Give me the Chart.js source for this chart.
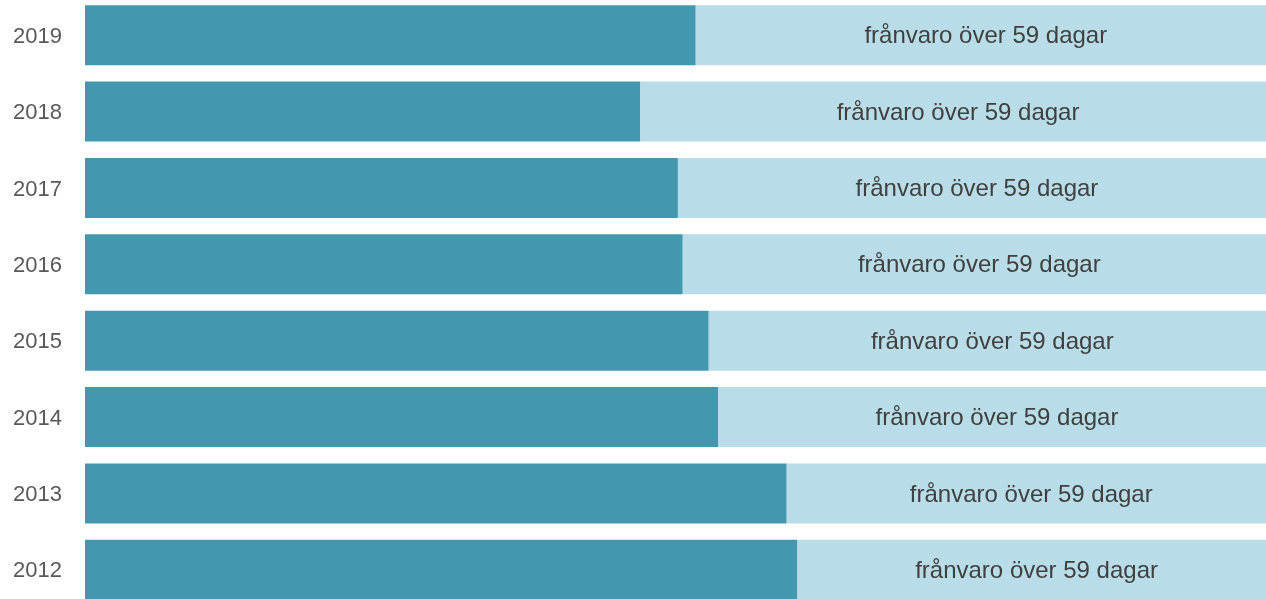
<!DOCTYPE html>
<html>
<head>
<meta charset="utf-8">
<script src="https://cdn.jsdelivr.net/npm/chart.js@4/dist/chart.umd.min.js"></script>
<style>
    html, body { margin: 0; padding: 0; background: #fff; overflow: hidden; }
    #chart { position: absolute; left: 0; top: -3px; }
</style>
</head>
<body>
<canvas id="chart" width="1266" height="611"></canvas>
<script>
const years = ['2019', '2018', '2017', '2016', '2015', '2014', '2013', '2012'];
const shortAbsence = [51.7, 47.0, 50.2, 50.6, 52.8, 53.6, 59.4, 60.3];
const longAbsence = [48.3, 53.0, 49.8, 49.4, 47.2, 46.4, 40.6, 39.7];
const longLabel = 'frånvaro över 59 dagar';

// writes the label in the middle of each light segment
const segmentLabels = {
    id: 'segmentLabels',
    afterDatasetsDraw(chart) {
        const ctx = chart.ctx;
        const meta = chart.getDatasetMeta(1);
        ctx.save();
        ctx.font = '24px "Liberation Sans", Arial, sans-serif';
        ctx.fillStyle = '#404040';
        ctx.textAlign = 'center';
        ctx.textBaseline = 'middle';
        meta.data.forEach(bar => {
            const cx = (bar.x + bar.base) / 2;
            ctx.fillText(longLabel, cx + 5, bar.y + 1.5);
        });
        ctx.restore();
    }
};

new Chart(document.getElementById('chart').getContext('2d'), {
    type: 'bar',
    data: {
        labels: years,
        datasets: [{
            label: 'frånvaro under 60 dagar',
            data: shortAbsence,
            backgroundColor: '#4398AF',
            barPercentage: 0.785,
            categoryPercentage: 1
        }, {
            label: longLabel,
            data: longAbsence,
            backgroundColor: '#B8DDE8',
            barPercentage: 0.785,
            categoryPercentage: 1
        }]
    },
    options: {
        indexAxis: 'y',
        responsive: false,
        animation: false,
        events: [],
        layout: { padding: 0 },
        scales: {
            x: {
                stacked: true,
                display: false,
                min: 0,
                max: 100
            },
            y: {
                stacked: true,
                grid: { display: false, drawTicks: false },
                border: { display: false },
                ticks: {
                    padding: 23,
                    labelOffset: 1.5,
                    color: '#595959',
                    font: { family: '"Liberation Sans", Arial, sans-serif', size: 22 }
                },
                afterFit: scale => {
                    scale.width = 85;
                    scale.paddingTop = 0;
                    scale.paddingBottom = 0;
                }
            }
        },
        plugins: {
            legend: { display: false },
            tooltip: { enabled: false }
        }
    },
    plugins: [segmentLabels]
});
</script>
</body>
</html>
